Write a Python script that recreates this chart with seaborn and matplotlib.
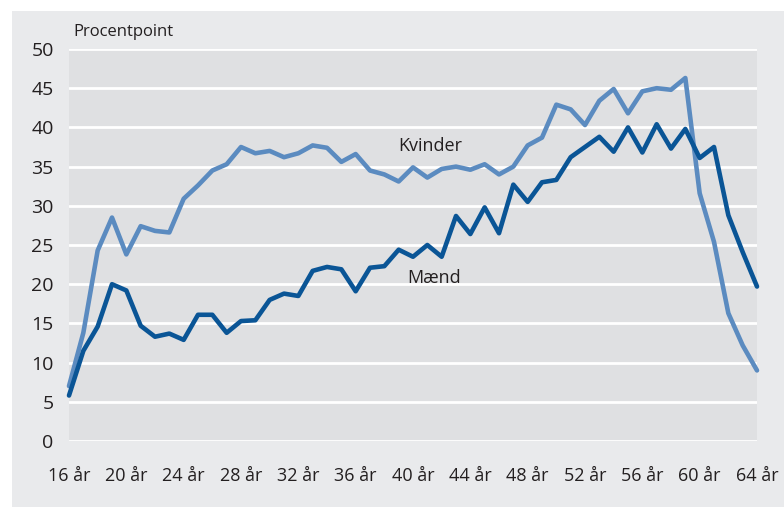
import pandas as pd
import matplotlib.pyplot as plt
import seaborn as sns
from matplotlib.patches import Rectangle

ages = list(range(16, 65))
kvinder = [7.0, 13.8, 24.3, 28.5, 23.8, 27.4, 26.8, 26.6, 30.9, 32.6,
           34.5, 35.3, 37.5, 36.7, 37.0, 36.2, 36.7, 37.7, 37.4, 35.6,
           36.6, 34.5, 34.0, 33.1, 34.9, 33.6, 34.7, 35.0, 34.6, 35.3,
           34.0, 35.0, 37.7, 38.7, 42.9, 42.3, 40.3, 43.4, 44.9, 41.8,
           44.6, 45.0, 44.8, 46.3, 31.6, 25.4, 16.3, 12.2, 9.0]
maend = [5.8, 11.5, 14.6, 20.0, 19.2, 14.7, 13.3, 13.7, 12.9, 16.1,
         16.1, 13.8, 15.3, 15.4, 18.0, 18.8, 18.5, 21.7, 22.2, 21.9,
         19.1, 22.1, 22.3, 24.4, 23.5, 25.0, 23.5, 28.7, 26.4, 29.8,
         26.5, 32.7, 30.5, 33.0, 33.3, 36.2, 37.5, 38.8, 36.9, 40.0,
         36.8, 40.4, 37.3, 39.8, 36.1, 37.5, 28.8, 24.1, 19.7]
x_ticks = list(range(16, 65, 4))
x_labels = [f"{a} år" for a in x_ticks]
y_ticks = list(range(0, 51, 5))

df = pd.DataFrame({"Alder": ages * 2,
                   "Værdi": kvinder + maend,
                   "Køn": ["Kvinder"] * len(ages) + ["Mænd"] * len(ages)})

sns.set_style("whitegrid", {"axes.facecolor": "#dfe0e2", "grid.color": "white"})
plt.rcParams['font.family'] = ['Open Sans', 'DejaVu Sans']

fig = plt.figure(figsize=(7.84, 5.07), dpi=100)
fig.patch.set_facecolor("white")
# grey panel behind the chart
fig.patches.append(Rectangle((12 / 784, 0), 1, 1 - 11 / 507, transform=fig.transFigure,
                             facecolor="#e9eaec", edgecolor="none", zorder=-5))
ax = fig.add_axes([69 / 784, 1 - 441 / 507, (757 - 69) / 784, (441 - 49) / 507])
ax.set_zorder(2)

sns.lineplot(data=df, x="Alder", y="Værdi", hue="Køn",
             palette={"Kvinder": "#5b8bc0", "Mænd": "#0a5596"},
             linewidth=3.3, legend=False, ax=ax)

ax.set_xlim(16, 64)
ax.set_ylim(0, 50)
ax.set_xticks(x_ticks)
ax.set_xticklabels(x_labels)
ax.set_yticks(y_ticks)
ax.grid(axis="x", visible=False)
ax.grid(axis="y", color="white", linewidth=2)
for s in ax.spines.values():
    s.set_visible(False)
ax.tick_params(axis="x", length=0, pad=19, labelsize=13, colors="#231f20")
ax.tick_params(axis="y", length=0, pad=11, labelsize=14, colors="#231f20")
ax.set_xlabel("")
ax.set_ylabel("")
for line in ax.lines:
    line.set_clip_on(False)

ax.text(39.0, 37.6, "Kvinder", fontsize=13, color="#231f20", va="center")
ax.text(39.6, 20.8, "Mænd", fontsize=13, color="#231f20", va="center")
fig.text(73 / 784, 1 - 32 / 507, "Procentpoint", fontsize=12, color="#231f20", va="center")

fig.savefig("out.png", dpi=100, facecolor="white")
